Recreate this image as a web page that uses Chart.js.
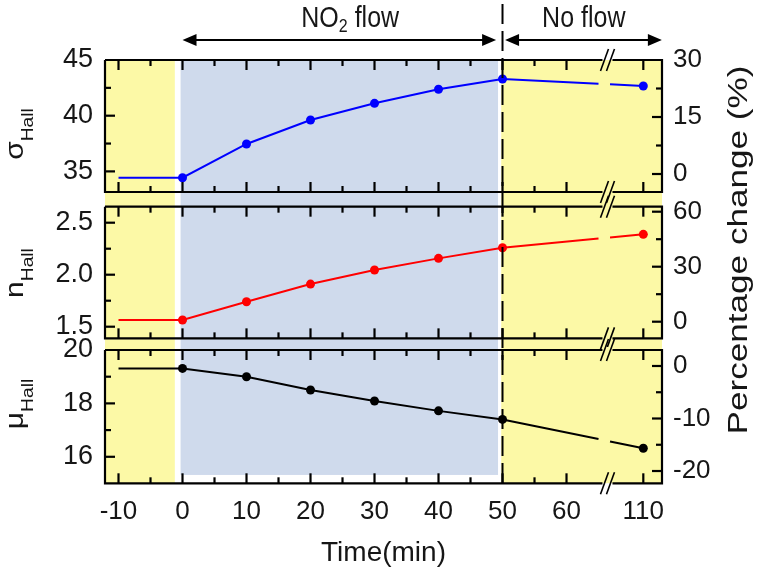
<!DOCTYPE html>
<html>
<head>
<meta charset="utf-8">
<script src="https://cdn.jsdelivr.net/npm/chart.js@4.4.0/dist/chart.umd.min.js"></script>
<style>
  html, body { margin: 0; padding: 0; background: #fff; }
</style>
</head>
<body>
<canvas id="hallChart" width="758" height="573"></canvas>
<script>
// time points (min), axis is broken between 60 and 110
const times = [-10, 0, 10, 20, 30, 40, 50, 110];
const timeTicks = [-10, 0, 10, 20, 30, 40, 50, 60, 110];

// Hall measurements
const sigmaHall = [34.43, 34.43, 37.46, 39.61, 41.11, 42.37, 43.29, 42.67];
const nHall = [1.564, 1.564, 1.74, 1.91, 2.045, 2.157, 2.259, 2.388];
const muHall = [19.31, 19.31, 19.0, 18.5, 18.09, 17.72, 17.4, 16.32];

// tick labels
const sigmaTicks = [35, 40, 45];
const nTicks = [1.5, 2.0, 2.5];
const muTicks = [16, 18, 20];
const sigmaPctTicks = [0, 15, 30];
const nPctTicks = [0, 30, 60];
const muPctTicks = [-20, -10, 0];

const FONT = "'Liberation Sans', Arial, sans-serif";
const TEXT = "#161616";
const YELLOW = "#fcf9a6";
const BLUE = "#cfdaec";

// broken time axis: 110 min is placed 12 units after 60
const breakAt = 60, resumeAt = 110, breakGap = 12;
const toAxis = (t) => (t >= resumeAt ? breakAt + breakGap + (t - resumeAt) : t);
const breakMark = 66.4;
const lineGap = [65.0, 66.8];

// panel frames (in the left axis units of each panel)
const panels = [
    { left: "yS", right: "pS", top: 45, bottom: 33.15, stepL: 2.5, stepR: 7.5, ticksL: sigmaTicks, ticksR: sigmaPctTicks },
    { left: "yN", right: "pN", top: 2.654, bottom: 1.388, stepL: 0.25, stepR: 15, ticksL: nTicks, ticksR: nPctTicks },
    { left: "yM", right: "pM", top: 20, bottom: 15.007, stepL: 1, stepR: 5, ticksL: muTicks, ticksR: muPctTicks },
];

function leftAxis(ticks, min, max, fmt) {
    return {
        type: "linear", position: "left", stack: "left", stackWeight: 1, min, max,
        afterBuildTicks: (s) => { s.ticks = ticks.map((v) => ({ value: v })); },
        afterFit: (s) => { s.width = 105; },
        ticks: { font: { family: FONT, size: 27 }, color: TEXT, padding: 12, callback: fmt },
        grid: { display: false, drawTicks: false },
        border: { display: false },
    };
}

function rightAxis(ticks, min, max) {
    return {
        type: "linear", position: "right", stack: "right", stackWeight: 1, min, max,
        afterBuildTicks: (s) => { s.ticks = ticks.map((v) => ({ value: v })); },
        afterFit: (s) => { s.width = 96; },
        ticks: { font: { family: FONT, size: 26 }, color: TEXT, padding: 11, callback: (v) => String(v) },
        grid: { display: false, drawTicks: false },
        border: { display: false },
    };
}

// dash pattern for the last segment: a short gap where the axis is broken
function lastDash(ctx) {
    if (ctx.p1DataIndex !== times.length - 1) return undefined;
    const xs = ctx.chart.scales.x;
    const g0 = xs.getPixelForValue(lineGap[0]);
    const g1 = xs.getPixelForValue(lineGap[1]);
    const dx = ctx.p1.x - ctx.p0.x;
    const k = Math.hypot(dx, ctx.p1.y - ctx.p0.y) / dx;
    return [(g0 - ctx.p0.x) * k, (g1 - g0) * k, 2000];
}

function series(values, color, axis) {
    return {
        data: times.map((t, i) => ({ x: toAxis(t), y: values[i] })),
        yAxisID: axis,
        borderColor: color,
        backgroundColor: color,
        borderWidth: 2,
        pointRadius: times.map((t) => (t < 0 ? 0 : 4.5)),
        pointBorderWidth: 0,
        pointHoverRadius: 0,
        tension: 0,
        segment: { borderDash: lastDash },
    };
}

function arrow(ctx, xa, xb, y) {
    const h = 14, w = 6;
    ctx.beginPath();
    ctx.moveTo(xa + h - 2, y);
    ctx.lineTo(xb - h + 2, y);
    ctx.stroke();
    ctx.beginPath();
    ctx.moveTo(xa, y); ctx.lineTo(xa + h, y - w); ctx.lineTo(xa + h, y + w); ctx.closePath();
    ctx.moveTo(xb, y); ctx.lineTo(xb - h, y - w); ctx.lineTo(xb - h, y + w); ctx.closePath();
    ctx.fill();
}

// vertical text (reads bottom to top) with an optional subscript
function sideLabel(ctx, main, sub, xBase, yCenter, size, subSize, stretch) {
    ctx.save();
    ctx.translate(xBase, yCenter);
    ctx.rotate(-Math.PI / 2);
    ctx.scale(stretch, 1);
    ctx.fillStyle = TEXT;
    ctx.textAlign = "left";
    ctx.textBaseline = "alphabetic";
    ctx.font = `${size}px ${FONT}`;
    const wMain = ctx.measureText(main).width;
    ctx.font = `${subSize}px ${FONT}`;
    const wSub = sub ? ctx.measureText(sub).width : 0;
    const start = -(wMain + wSub) / 2;
    ctx.font = `${size}px ${FONT}`;
    ctx.fillText(main, start, 0);
    if (sub) {
        ctx.font = `${subSize}px ${FONT}`;
        ctx.fillText(sub, start + wMain, 10);
    }
    ctx.restore();
}

// tick values inside (lo, hi) stepping from the major ticks
function tickRange(ticks, step, lo, hi) {
    const out = [];
    const a = Math.min(lo, hi), b = Math.max(lo, hi);
    const first = ticks[0] - 10 * step;
    for (let k = 0; k <= 40; k++) {
        const r = Math.round((first + k * step) * 1000) / 1000;
        if (r > a + 1e-6 && r < b - 1e-6) {
            out.push({ v: r, major: ticks.some((t) => Math.abs(t - r) < 1e-6) });
        }
    }
    return out;
}

function tickLine(ctx, x0, y0, x1, y1) {
    ctx.beginPath();
    ctx.moveTo(x0, y0);
    ctx.lineTo(x1, y1);
    ctx.stroke();
}

const hallFrame = {
    id: "hallFrame",
    beforeDatasetsDraw(chart) {
        const { ctx, chartArea: a, scales } = chart;
        const xs = scales.x;
        const top = scales.yS.getPixelForValue(panels[0].top);
        const bottom = scales.yM.getPixelForValue(panels[2].bottom);
        const blueBottom = scales.yM.getPixelForValue(15.32);
        ctx.save();
        ctx.fillStyle = YELLOW;
        ctx.fillRect(a.left, top, xs.getPixelForValue(-1.2) - a.left, bottom - top);
        const yr = xs.getPixelForValue(49.8);
        ctx.fillRect(yr, top, a.right - yr, bottom - top);
        ctx.fillStyle = BLUE;
        const b0 = xs.getPixelForValue(-0.3), b1 = xs.getPixelForValue(49.3);
        ctx.fillRect(b0, top, b1 - b0, blueBottom - top);
        ctx.restore();
    },
    afterDraw(chart) {
        const { ctx, chartArea: a, scales } = chart;
        const xs = scales.x;
        ctx.save();
        ctx.strokeStyle = "#000000";
        ctx.fillStyle = "#000000";
        ctx.setLineDash([]);

        // x tick positions (every 5 min up to 60, plus 110)
        const xMarks = [];
        for (let t = -10; t <= 60; t += 5) xMarks.push({ p: xs.getPixelForValue(t), major: t % 10 === 0 });
        xMarks.push({ p: xs.getPixelForValue(toAxis(110)), major: true });

        const bx = xs.getPixelForValue(breakMark);
        panels.forEach((p, i) => {
            const ly = scales[p.left], ry = scales[p.right];
            const y0 = ly.getPixelForValue(p.top), y1 = ly.getPixelForValue(p.bottom);

            // ticks pointing inward on all four sides
            ctx.lineWidth = 2.2;
            xMarks.forEach((m) => {
                const len = m.major ? 10 : 6;
                tickLine(ctx, m.p, y0, m.p, y0 + len);
                tickLine(ctx, m.p, y1, m.p, y1 - len);
            });
            tickRange(p.ticksL, p.stepL, p.top, p.bottom).forEach((m) => {
                const py = ly.getPixelForValue(m.v);
                tickLine(ctx, a.left, py, a.left + (m.major ? 10 : 6), py);
            });
            const r0 = ry.getValueForPixel(y0), r1 = ry.getValueForPixel(y1);
            tickRange(p.ticksR, p.stepR, r0, r1).forEach((m) => {
                const py = ry.getPixelForValue(m.v);
                tickLine(ctx, a.right, py, a.right - (m.major ? 10 : 6), py);
            });

            // break marks: clear the frame between the slashes first
            [[y0, i === 0 ? "#fff" : YELLOW, YELLOW], [y1, YELLOW, i === 2 ? "#fff" : YELLOW]].forEach(([ey, above, below]) => {
                ctx.fillStyle = above;
                ctx.fillRect(bx - 5, ey - 3, 10, 3);
                ctx.fillStyle = below;
                ctx.fillRect(bx - 5, ey, 10, 3);
            });
            ctx.fillStyle = "#000000";

            // frame
            ctx.lineWidth = 2.2;
            ctx.beginPath();
            ctx.moveTo(a.left, y0); ctx.lineTo(bx - 5, y0);
            ctx.moveTo(bx + 5, y0); ctx.lineTo(a.right, y0); ctx.lineTo(a.right, y1);
            ctx.lineTo(bx + 5, y1); ctx.moveTo(bx - 5, y1); ctx.lineTo(a.left, y1); ctx.lineTo(a.left, y0);
            ctx.stroke();

            ctx.lineWidth = 1.6;
            [y0, y1].forEach((ey) => {
                [-3, 3].forEach((off) => tickLine(ctx, bx + off - 4, ey + 11, bx + off + 4, ey - 11));
            });
        });

        // dashed separator at 50 min
        const xd = xs.getPixelForValue(50);
        const yEnd = scales.yM.getPixelForValue(panels[2].bottom);
        ctx.lineWidth = 2;
        ctx.setLineDash([20, 7]);
        tickLine(ctx, xd, 4, xd, yEnd);
        ctx.setLineDash([]);

        // arrows and phase labels
        arrow(ctx, xs.getPixelForValue(0), xs.getPixelForValue(49.0), 40);
        arrow(ctx, xs.getPixelForValue(50.4), xs.getPixelForValue(74.9), 40);

        ctx.fillStyle = TEXT;
        ctx.textBaseline = "alphabetic";
        ctx.textAlign = "left";
        const drawTop = (parts, cx) => {
            ctx.save();
            let w = 0;
            parts.forEach((pt) => { ctx.font = `${pt.size}px ${FONT}`; w += ctx.measureText(pt.t).width; });
            ctx.translate(cx - w / 2, 27);
            ctx.scale(1, 1.2);
            let x = 0;
            parts.forEach((pt) => {
                ctx.font = `${pt.size}px ${FONT}`;
                ctx.fillText(pt.t, x, pt.dy || 0);
                x += ctx.measureText(pt.t).width;
            });
            ctx.restore();
        };
        drawTop([{ t: "NO", size: 25 }, { t: "2", size: 16, dy: 4 }, { t: " flow", size: 25 }], xs.getPixelForValue(26.2));
        drawTop([{ t: "No flow", size: 25 }], xs.getPixelForValue(62.7));

        // axis titles
        sideLabel(ctx, "σ", "Hall", 23, 134, 25, 16, 1.2);
        sideLabel(ctx, "n", "Hall", 23, 273, 25, 16, 1.2);
        sideLabel(ctx, "μ", "Hall", 23, 404, 25, 16, 1.2);
        sideLabel(ctx, "Percentage change (%)", "", 747, 250, 27, 16, 1.3);
        ctx.restore();
    },
};

new Chart(document.getElementById("hallChart").getContext("2d"), {
    type: "line",
    data: {
        datasets: [
            series(sigmaHall, "#0000ff", "yS"),
            series(nHall, "#ff0000", "yN"),
            series(muHall, "#000000", "yM"),
        ],
    },
    options: {
        responsive: false,
        devicePixelRatio: 1,
        animation: false,
        layout: { padding: { top: 60, left: 0, right: 0, bottom: 0 } },
        plugins: { legend: { display: false }, tooltip: { enabled: false } },
        scales: {
            x: {
                type: "linear", position: "bottom", min: -12.11, max: 74.92,
                afterBuildTicks: (s) => { s.ticks = timeTicks.map((t) => ({ value: toAxis(t) })); },
                afterFit: (s) => { s.height = 89.7; },
                ticks: {
                    font: { family: FONT, size: 26 }, color: TEXT, padding: 13,
                    autoSkip: false, maxRotation: 0,
                    callback: (v, i) => String(timeTicks[i]),
                },
                grid: { display: false, drawTicks: false },
                border: { display: false },
                title: { display: true, text: "Time(min)", font: { family: FONT, size: 28 }, color: TEXT, padding: { top: 0, bottom: 3 } },
            },
            // left axes: the last one listed is stacked on top
            yM: leftAxis(muTicks, 15.007, 20.292, (v) => String(v)),
            yN: leftAxis(nTicks, 1.351, 2.7077, (v) => v.toFixed(1)),
            yS: leftAxis(sigmaTicks, 32.333, 45, (v) => String(v)),
            pS: rightAxis(sigmaPctTicks, -7.13, 30),
            pN: rightAxis(nPctTicks, -11.18, 65.78),
            pM: rightAxis(muPctTicks, -22.34, 4.53),
        },
    },
    plugins: [hallFrame],
});
</script>
</body>
</html>
